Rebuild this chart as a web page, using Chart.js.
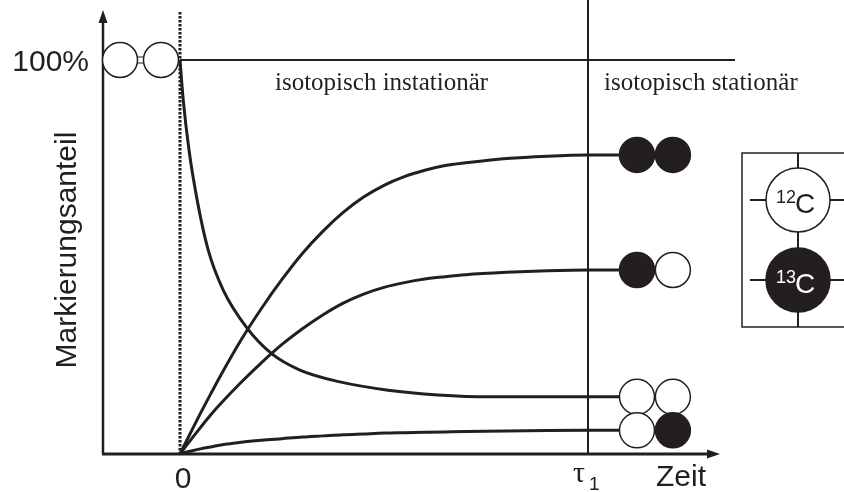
<!DOCTYPE html>
<html>
<head>
<meta charset="utf-8">
<script src="https://cdn.jsdelivr.net/npm/chart.js@4"></script>
<style>
  body { margin: 0; background: #fff; }
</style>
</head>
<body>
<canvas id="chart" width="844" height="492"></canvas>
<script>
// time in arbitrary units, label start at 0, steady state reached at tau1 = 10
const times = [0, 0.1, 0.25, 0.5, 0.75, 1, 1.5, 2, 2.5, 3, 3.5, 4, 4.5, 5, 5.5, 6, 6.5, 7, 8, 9, 10, 10.8];
// Markierungsanteil in % per isotopomer (● = 13C, ○ = 12C)
const fracFF = [0, 2.1, 5.2, 10.3, 15.2, 20, 29, 37, 44.3, 50.9, 56.5, 61.3, 65.2, 68.2, 70.4, 72.0, 73.2, 73.9, 75.0, 75.6, 75.9, 75.9];
const fracFO = [0, 1.4, 3.4, 6.7, 9.9, 12.8, 18.2, 23.2, 27.8, 31.8, 35.3, 38.3, 40.6, 42.3, 43.5, 44.4, 45.0, 45.5, 46.1, 46.5, 46.7, 46.7];
const fracOF = [0, 0.3, 0.7, 1.3, 1.8, 2.3, 3.0, 3.5, 3.9, 4.3, 4.6, 4.9, 5.1, 5.3, 5.4, 5.5, 5.6, 5.7, 5.85, 5.95, 6.0, 6.0];
// the unlabelled molecule falls steeply, so it is read on its own time points
const timesOO = [0, 0.08, 0.22, 0.42, 0.69, 1.06, 1.64, 2.23, 2.94, 3.92, 5.1, 6.32, 7.6, 10, 10.8];
const fracOO = [100, 89.8, 77.2, 64.5, 51.8, 41.6, 32.0, 25.6, 21.3, 18.3, 16.2, 15.0, 14.5, 14.5, 14.5];

const xTicks = ['0', 'τ1'];
const tau1 = 10;
const fullLabel = 100;

const ink = '#231f20';

function series(xs, values) {
    return values.map((v, i) => ({ x: xs[i], y: v }))
}

// circles of each molecule: two carbons, filled = 13C
const molX = [11.2, 12.08];
const startX = [-1.47, -0.466];
let molPoints = [];
let molFills = [];
function addMolecule(xs, y, fills) {
    for (let i = 0; i < 2; i++) {
        molPoints.push({ x: xs[i], y: y });
        molFills.push(fills[i] ? ink : '#fff');
    }
}
addMolecule(startX, fracOO[0], [false, false]);
addMolecule(molX, fracFF[fracFF.length - 1], [true, true]);
addMolecule(molX, fracFO[fracFO.length - 1], [true, false]);
addMolecule(molX, fracOO[fracOO.length - 1], [false, false]);
addMolecule(molX, fracOF[fracOF.length - 1], [false, true]);

function curve(xs, values) {
    return {
        data: series(xs, values),
        borderColor: ink,
        borderWidth: 3,
        pointRadius: 0,
        cubicInterpolationMode: 'monotone',
        fill: false,
        order: 1
    }
}

const decor = {
    id: 'decor',
    beforeDatasetsDraw(chart) {
        const ctx = chart.ctx;
        const x = chart.scales.x, y = chart.scales.y;
        const area = chart.chartArea;
        const x0 = x.getPixelForValue(0);
        const xt = x.getPixelForValue(tau1);
        const y100 = y.getPixelForValue(fullLabel);
        ctx.save();
        ctx.strokeStyle = ink;
        ctx.fillStyle = ink;

        // axes with arrows
        ctx.lineWidth = 2.5;
        ctx.beginPath();
        ctx.moveTo(area.left, area.bottom);
        ctx.lineTo(area.left, area.top + 8);
        ctx.stroke();
        ctx.beginPath();
        ctx.moveTo(area.left, area.top - 2);
        ctx.lineTo(area.left - 4.5, area.top + 11);
        ctx.lineTo(area.left + 4.5, area.top + 11);
        ctx.closePath();
        ctx.fill();

        ctx.lineWidth = 3;
        ctx.beginPath();
        ctx.moveTo(area.left - 1, area.bottom);
        ctx.lineTo(area.right - 8, area.bottom);
        ctx.stroke();
        ctx.beginPath();
        ctx.moveTo(area.right + 2, area.bottom);
        ctx.lineTo(area.right - 11, area.bottom - 4.5);
        ctx.lineTo(area.right - 11, area.bottom + 4.5);
        ctx.closePath();
        ctx.fill();

        // start of labelling
        ctx.lineWidth = 3;
        ctx.setLineDash([2.5, 1.5]);
        ctx.beginPath();
        ctx.moveTo(x0, area.top);
        ctx.lineTo(x0, area.bottom);
        ctx.stroke();
        ctx.setLineDash([]);

        // tau1
        ctx.lineWidth = 2;
        ctx.beginPath();
        ctx.moveTo(xt, 0);
        ctx.lineTo(xt, area.bottom);
        ctx.stroke();

        // 100 % level
        ctx.beginPath();
        ctx.moveTo(x0, y100);
        ctx.lineTo(735, y100);
        ctx.stroke();

        // bond of the start molecule
        const a = x.getPixelForValue(startX[0]) + 17;
        const b = x.getPixelForValue(startX[1]) - 17;
        ctx.lineWidth = 1.2;
        ctx.beginPath();
        ctx.moveTo(a, y100 - 3); ctx.lineTo(b, y100 - 3);
        ctx.moveTo(a, y100 + 3); ctx.lineTo(b, y100 + 3);
        ctx.stroke();
        ctx.restore();
    },
    afterDraw(chart) {
        const ctx = chart.ctx;
        const x = chart.scales.x, y = chart.scales.y;
        const x0 = x.getPixelForValue(0);
        const xt = x.getPixelForValue(tau1);
        const y100 = y.getPixelForValue(fullLabel);
        ctx.save();
        ctx.fillStyle = ink;
        ctx.textBaseline = 'alphabetic';

        ctx.font = '30px "Liberation Sans"';
        ctx.textAlign = 'right';
        ctx.fillText('100%', 89, y100 + 11);
        ctx.textAlign = 'center';
        ctx.fillText(xTicks[0], x0 + 3, 488);
        ctx.textAlign = 'left';
        ctx.fillText('Zeit', 656, 486);

        // tau1 label
        ctx.font = '30px "Liberation Serif"';
        ctx.fillText('τ', xt - 15, 482);
        ctx.font = '19px "Liberation Sans"';
        ctx.fillText(xTicks[1].slice(1), xt + 1, 490);

        // y title
        ctx.save();
        ctx.translate(76, 250);
        ctx.rotate(-Math.PI / 2);
        ctx.textAlign = 'center';
        ctx.font = '30px "Liberation Sans"';
        ctx.fillText('Markierungsanteil', 0, 0);
        ctx.restore();

        // phases
        ctx.font = '25px "Liberation Serif"';
        ctx.textAlign = 'left';
        ctx.fillText('isotopisch instationär', 275, 90);
        ctx.fillText('isotopisch stationär', 604, 90);

        // key box
        ctx.strokeStyle = ink;
        ctx.lineWidth = 1.5;
        ctx.beginPath();
        ctx.moveTo(846, 153);
        ctx.lineTo(742, 153);
        ctx.lineTo(742, 327);
        ctx.lineTo(846, 327);
        ctx.stroke();
        const cx = 798, r = 32;
        ctx.lineWidth = 2;
        ctx.beginPath();
        ctx.moveTo(cx, 153); ctx.lineTo(cx, 327);
        [200, 280].forEach(cy => {
            ctx.moveTo(750, cy); ctx.lineTo(cx - r, cy);
            ctx.moveTo(cx + r, cy); ctx.lineTo(846, cy);
        });
        ctx.stroke();
        ctx.lineWidth = 1.5;
        ctx.beginPath();
        ctx.arc(cx, 200, r, 0, Math.PI * 2);
        ctx.fillStyle = '#fff';
        ctx.fill();
        ctx.stroke();
        ctx.beginPath();
        ctx.arc(cx, 280, r, 0, Math.PI * 2);
        ctx.fillStyle = ink;
        ctx.fill();
        ctx.stroke();

        [['12', 200, ink], ['13', 280, '#fff']].forEach(([iso, cy, col]) => {
            ctx.fillStyle = col;
            ctx.font = '18px "Liberation Sans"';
            ctx.fillText(iso, 776, cy + 3);
            ctx.font = '28px "Liberation Sans"';
            ctx.fillText('C', 795, cy + 13);
        });
        ctx.restore();
    }
};

const data = {
    datasets: [
        {
            data: molPoints,
            showLine: false,
            pointRadius: 17.5,
            pointHoverRadius: 17.5,
            pointBackgroundColor: molFills,
            pointBorderColor: ink,
            pointBorderWidth: 1.5,
            clip: false,
            order: 0
        },
        curve(timesOO, fracOO),
        curve(times, fracFF),
        curve(times, fracFO),
        curve(times, fracOF)
    ]
};

const config = {
    type: 'line',
    data: data,
    options: {
        responsive: false,
        animation: false,
        events: [],
        layout: { autoPadding: false, padding: { left: 103, right: 126, top: 12, bottom: 38 } },
        plugins: { legend: { display: false }, tooltip: { enabled: false } },
        scales: {
            x: { type: 'linear', min: -1.887, max: 13.186, display: false },
            y: { min: 0, max: 112.18, display: false }
        }
    },
    plugins: [decor]
};

new Chart(document.getElementById('chart').getContext('2d'), config);
</script>
</body>
</html>
